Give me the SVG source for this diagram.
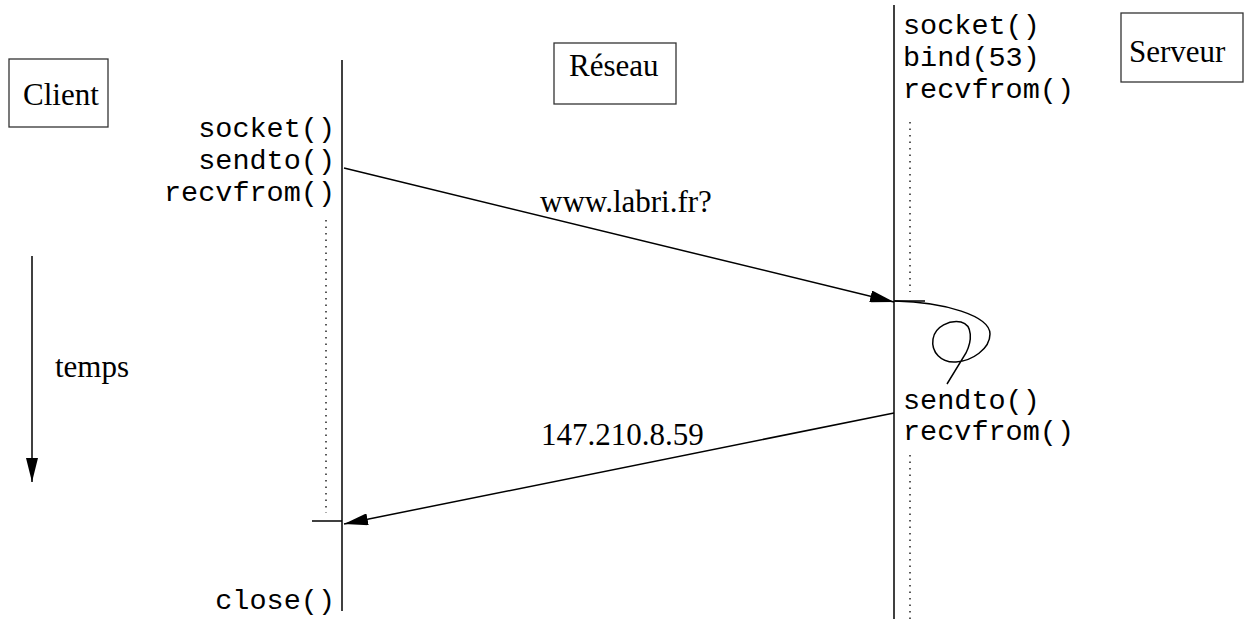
<svg xmlns="http://www.w3.org/2000/svg" width="1251" height="623" viewBox="0 0 1251 623">
<style>
.box{fill:#fff;stroke:#333;stroke-width:1.3}
.lab{font-family:"Liberation Serif","Times New Roman",serif;font-size:31px;fill:#000}
.mono{font-family:"Liberation Mono","Courier New",monospace;font-size:28.5px;fill:#000}
.life{stroke:#000;stroke-width:1.5;fill:none}
.dot{stroke:#000;stroke-width:1.3;stroke-dasharray:1.5 5;fill:none}
.msg{stroke:#000;stroke-width:1.5;fill:none}
</style>
<defs>
<marker id="ah" viewBox="0 0 24 12" refX="24" refY="6" markerWidth="24" markerHeight="12" markerUnits="userSpaceOnUse" orient="auto">
<path d="M0,0 L24,6 L0,12 Z" fill="#000"/>
</marker>
</defs>
<rect width="1251" height="623" fill="#fff"/>
<g id="client">
<rect class="box" x="9" y="59" width="99" height="68"/>
<text class="lab" x="23" y="105">Client</text>
<line class="life" x1="342" y1="60" x2="342" y2="611"/>
<line class="dot" x1="326" y1="220" x2="326" y2="513"/>
<g class="mono" text-anchor="end">
<text x="335" y="137">socket()</text>
<text x="335" y="169">sendto()</text>
<text x="335" y="201">recvfrom()</text>
<text x="335" y="609">close()</text>
</g>
<line class="life" x1="312" y1="521" x2="342" y2="521"/>
</g>
<g id="reseau">
<rect class="box" x="554" y="43" width="122" height="61"/>
<text class="lab" x="569" y="76">Réseau</text>
</g>
<g id="serveur">
<rect class="box" x="1121" y="13" width="122" height="69"/>
<text class="lab" x="1129" y="62">Serveur</text>
<line class="life" x1="894" y1="5" x2="894" y2="619"/>
<line class="dot" x1="910" y1="122" x2="910" y2="292"/>
<line class="dot" x1="910" y1="455" x2="910" y2="620"/>
<g class="mono">
<text x="903" y="34">socket()</text>
<text x="903" y="66">bind(53)</text>
<text x="903" y="98">recvfrom()</text>
<text x="903" y="409">sendto()</text>
<text x="903" y="440">recvfrom()</text>
</g>
<line class="life" x1="894" y1="301" x2="925" y2="301"/>
<path class="life" d="M895,301 C945,302 990,316 990,334 C990,349 972,361 956,362 C941,363 931,352 933,339 C935,326 950,320 961,322 C973,325 972,341 966,353 L947,384"/>
</g>
<g id="temps">
<line class="msg" x1="32" y1="256" x2="32" y2="482" marker-end="url(#ah)"/>
<text class="lab" x="55" y="377">temps</text>
</g>
<g id="connectors">
<line class="msg" x1="344" y1="168" x2="894" y2="302" marker-end="url(#ah)"/>
<text class="lab" x="540" y="212">www.labri.fr?</text>
<line class="msg" x1="894" y1="413" x2="344" y2="524" marker-end="url(#ah)"/>
<text class="lab" x="541" y="445">147.210.8.59</text>
</g>
</svg>
